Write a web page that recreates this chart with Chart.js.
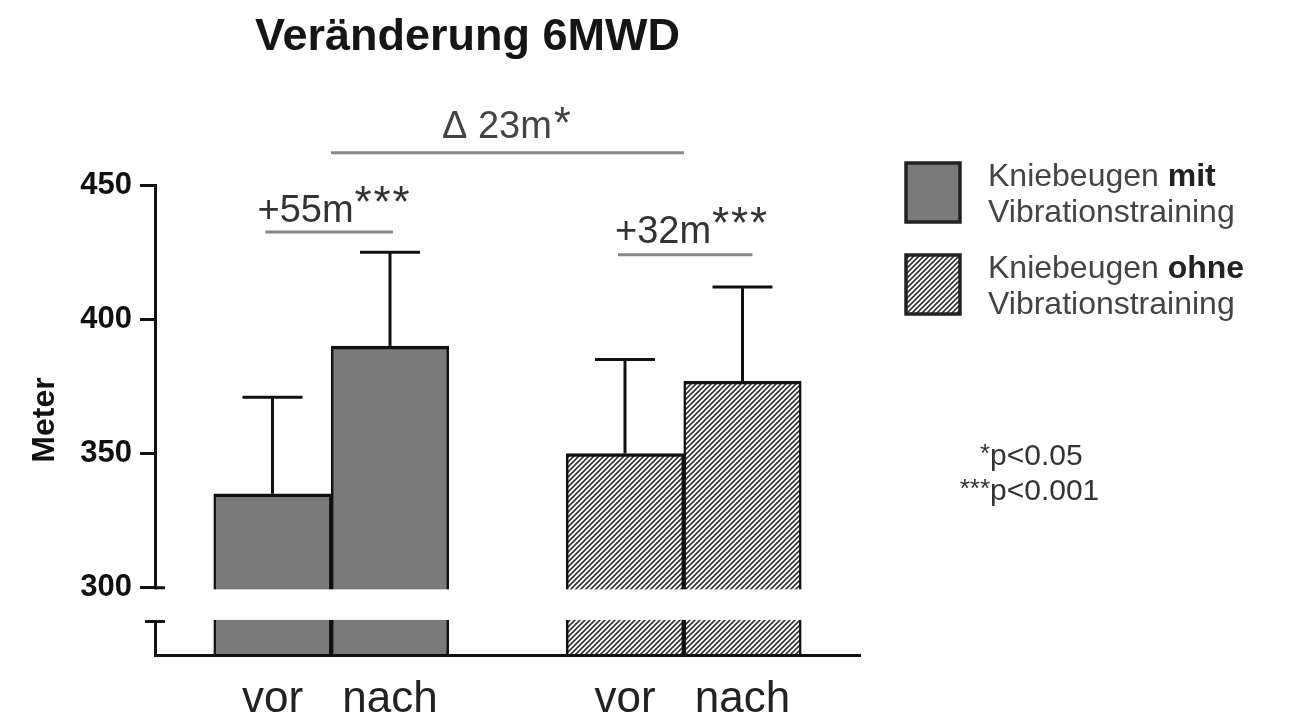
<!DOCTYPE html>
<html>
<head>
<meta charset="utf-8">
<script src="https://cdn.jsdelivr.net/npm/chart.js@4.4.1/dist/chart.umd.min.js"></script>
<style>
body { margin: 0; background: #fff; }
#wrap { width: 1290px; height: 720px; }
</style>
</head>
<body>
<div id="wrap"><canvas id="myChart" width="1290" height="720"></canvas></div>
<script>
// Daten (Mittelwert + SD in Meter)
const zeitpunkte = ['vor', 'nach'];
const mitWerte = [335, 390];
const mitSD = [36, 35];
const ohneWerte = [350, 377];
const ohneSD = [35, 35];
const yTicks = [300, 350, 400, 450];

const diffMit = '+55m';
const diffOhne = '+32m';
const diffGruppen = '\u0394 23m';

// Grundlinie bei 275, Achse unterbrochen zwischen 287.5 und 300
const yMin = 275, yMax = 450, bruchOben = 300, bruchUnten = 287.5;

const schrift = '"Liberation Sans", Arial, sans-serif';
const ctx = document.getElementById('myChart');
const ctx2d = ctx.getContext('2d');

function schraffur() {
    const c = document.createElement('canvas');
    c.width = 5; c.height = 5;
    const g = c.getContext('2d');
    g.fillStyle = '#fff';
    g.fillRect(0, 0, 5, 5);
    g.strokeStyle = '#333';
    g.lineWidth = 1.6;
    g.beginPath();
    g.moveTo(-1, 6); g.lineTo(6, -1);
    g.moveTo(-1, 1); g.lineTo(1, -1);
    g.moveTo(4, 6); g.lineTo(6, 4);
    g.stroke();
    return ctx2d.createPattern(c, 'repeat');
}
const muster = schraffur();
const grau = '#7a7a7a';

// Kategorien: leere Plaetze als Abstand
const labels = ['', zeitpunkte[0], zeitpunkte[1], '', zeitpunkte[0], zeitpunkte[1], ''];
const datenMit = [null, mitWerte[0], mitWerte[1], null, null, null, null];
const sdMit = [null, mitSD[0], mitSD[1], null, null, null, null];
const datenOhne = [null, null, null, null, ohneWerte[0], ohneWerte[1], null];
const sdOhne = [null, null, null, null, ohneSD[0], ohneSD[1], null];

const zeichnen = {
    id: 'zeichnen',
    afterDraw(chart) {
        const c = chart.ctx;
        const y = chart.scales.y;
        const a = chart.chartArea;
        c.save();

        // Fehlerbalken (nur nach oben)
        c.strokeStyle = '#111';
        c.lineWidth = 3;
        chart.data.datasets.forEach((ds, di) => {
            const meta = chart.getDatasetMeta(di);
            meta.data.forEach((bar, i) => {
                if (ds.data[i] == null) return;
                const oben = y.getPixelForValue(ds.data[i] + ds.sd[i]);
                c.beginPath();
                c.moveTo(bar.x, bar.y);
                c.lineTo(bar.x, oben);
                c.moveTo(bar.x - 30, oben);
                c.lineTo(bar.x + 30, oben);
                c.stroke();
            });
        });

        // Achsenbruch
        const pOben = y.getPixelForValue(bruchOben);
        const pUnten = y.getPixelForValue(bruchUnten);
        c.fillStyle = '#fff';
        c.fillRect(a.left - 14, pOben + 1.5, a.right - a.left + 20, pUnten - pOben - 3);
        c.beginPath();
        c.moveTo(a.left, pOben); c.lineTo(a.left + 10, pOben);
        c.moveTo(a.left - 10, pUnten); c.lineTo(a.left + 10, pUnten);
        c.stroke();

        // Signifikanz-Linien
        const m0 = chart.getDatasetMeta(0).data;
        const m1 = chart.getDatasetMeta(1).data;
        c.strokeStyle = '#888';
        c.lineWidth = 3;
        const l1 = y.getPixelForValue(432.5);
        const l2 = y.getPixelForValue(424);
        const l3 = y.getPixelForValue(462);
        c.beginPath();
        c.moveTo(m0[1].x - 7, l1); c.lineTo(m0[2].x + 3, l1);
        c.moveTo(m1[4].x - 7, l2); c.lineTo(m1[5].x + 10, l2);
        c.moveTo(m0[2].x - 59, l3); c.lineTo(m1[4].x + 59, l3);
        c.stroke();

        c.fillStyle = '#333';
        c.textAlign = 'left';
        c.textBaseline = 'alphabetic';
        function sterne(x, yb, n) {
            c.font = '44px ' + schrift;
            for (let k = 0; k < n; k++) c.fillText('*', x + k * 19, yb);
        }
        c.font = '38px ' + schrift;
        c.fillText(diffMit, m0[1].x - 15, l1 - 10);
        let w = c.measureText(diffMit).width;
        sterne(m0[1].x - 15 + w + 1, l1 - 15, 3);
        c.font = '38px ' + schrift;
        c.fillText(diffOhne, m1[4].x - 10, l2 - 12);
        w = c.measureText(diffOhne).width;
        sterne(m1[4].x - 10 + w + 1, l2 - 17, 3);
        c.fillStyle = '#444';
        c.font = '38px ' + schrift;
        c.fillText(diffGruppen, 442, l3 - 15);
        w = c.measureText(diffGruppen).width;
        sterne(442 + w + 2, l3 - 15, 1);

        // Titel
        c.fillStyle = '#151515';
        c.font = 'bold 45px ' + schrift;
        c.fillText('Veränderung 6MWD', 255, 50);

        // Legende
        const eintraege = [
            {farbe: grau, teil1: 'Kniebeugen ', fett: 'mit', y: 163},
            {farbe: muster, teil1: 'Kniebeugen ', fett: 'ohne', y: 255}
        ];
        eintraege.forEach(e => {
            c.fillStyle = e.farbe;
            c.fillRect(906, e.y, 54, 59);
            c.strokeStyle = '#222';
            c.lineWidth = 3.5;
            c.strokeRect(906, e.y, 54, 59);
            c.fillStyle = '#444';
            c.font = '32px ' + schrift;
            c.fillText(e.teil1, 988, e.y + 23);
            const tw = c.measureText(e.teil1).width;
            c.fillStyle = '#222';
            c.font = 'bold 32px ' + schrift;
            c.fillText(e.fett, 988 + tw, e.y + 23);
            c.fillStyle = '#444';
            c.font = '32px ' + schrift;
            c.fillText('Vibrationstraining', 988, e.y + 59);
        });

        // p-Werte
        c.fillStyle = '#333';
        c.font = '30px ' + schrift;
        c.fillText('p<0.05', 990, 465);
        c.fillText('p<0.001', 990, 500);
        c.textAlign = 'right';
        c.font = '26px ' + schrift;
        c.fillText('*', 990, 462);
        c.fillText('***', 990, 497);

        c.restore();
    }
};

new Chart(ctx, {
    type: 'bar',
    data: {
        labels: labels,
        datasets: [
            {
                label: 'Kniebeugen mit Vibrationstraining',
                data: datenMit,
                sd: sdMit,
                backgroundColor: grau
            },
            {
                label: 'Kniebeugen ohne Vibrationstraining',
                data: datenOhne,
                sd: sdOhne,
                backgroundColor: muster
            }
        ]
    },
    options: {
        responsive: false,
        animation: false,
        events: [],
        layout: { padding: { left: 0, top: 185, right: 430, bottom: 0 } },
        datasets: {
            bar: {
                grouped: false,
                barPercentage: 1,
                categoryPercentage: 1,
                borderColor: '#111',
                borderWidth: { top: 3.5, left: 2.5, right: 2.5, bottom: 0 },
                borderSkipped: 'bottom'
            }
        },
        plugins: {
            legend: { display: false },
            tooltip: { enabled: false }
        },
        scales: {
            x: {
                offset: false,
                afterFit: s => { s.height = 65; },
                grid: { display: false },
                border: { display: true, color: '#111', width: 3, z: 1 },
                ticks: {
                    autoSkip: false,
                    maxRotation: 0,
                    padding: 10,
                    color: '#222',
                    font: { family: schrift, size: 44 }
                }
            },
            y: {
                min: yMin,
                max: yMax,
                afterFit: s => { s.width = 155; },
                afterBuildTicks: s => { s.ticks = yTicks.map(v => ({ value: v })); },
                grid: {
                    drawOnChartArea: false,
                    drawTicks: true,
                    tickLength: 15,
                    color: '#111',
                    lineWidth: 3
                },
                border: { display: true, color: '#111', width: 3, z: 1 },
                ticks: {
                    padding: 8,
                    color: '#111',
                    font: { family: schrift, size: 31, weight: 'bold' }
                },
                title: {
                    display: true,
                    text: 'Meter',
                    color: '#111',
                    padding: { top: 26, bottom: 0 },
                    font: { family: schrift, size: 32, weight: 'bold' }
                }
            }
        }
    },
    plugins: [zeichnen]
});
</script>
</body>
</html>
